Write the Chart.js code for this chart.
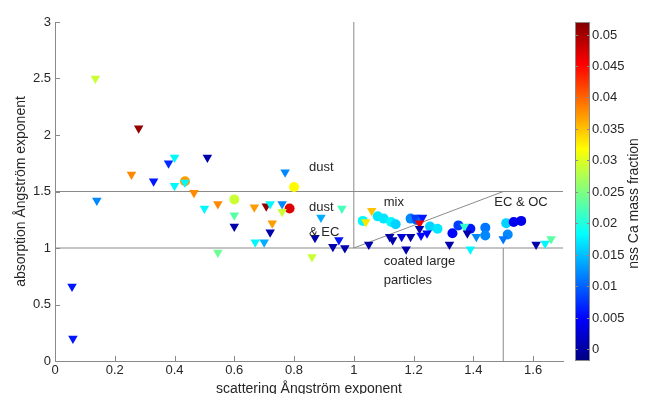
<!DOCTYPE html>
<html>
<head>
<meta charset="utf-8">
<script src="https://cdn.jsdelivr.net/npm/chart.js@4/dist/chart.umd.min.js"></script>
<style>
  html, body { margin: 0; padding: 0; background: #fff; }
  #wrap { width: 646px; height: 394px; }
</style>
</head>
<body>
<div id="wrap"><canvas id="chart" width="646" height="394"></canvas></div>
<script>
// triangles (first data set): scattering AAE, absorption AAE, nss Ca fraction
const triX = [0.135, 0.28, 0.256, 0.33, 0.38, 0.40, 0.51, 0.40, 0.435, 0.465, 0.50, 0.545, 0.60, 0.60, 0.545,
  0.667, 0.707, 0.72, 0.67, 0.70, 0.727, 0.72, 0.76, 0.77, 0.76, 0.96, 0.89, 0.87, 0.93, 0.95, 0.97, 0.86,
  0.057, 0.06, 0.14,
  1.06, 1.04, 1.05, 1.12, 1.13, 1.16, 1.175, 1.19, 1.205, 1.23, 1.22, 1.22, 1.225, 1.245,
  1.32, 1.37, 1.38, 1.39, 1.41, 1.50, 1.61, 1.64, 1.66];
const triY = [2.50, 2.06, 1.65, 1.59, 1.75, 1.80, 1.80, 1.55, 1.58, 1.49, 1.35, 1.39, 1.29, 1.19, 0.96,
  1.36, 1.37, 1.39, 1.05, 1.05, 1.22, 1.14, 1.39, 1.67, 1.32, 1.35, 1.27, 1.09, 1.01, 1.07, 1.00, 0.92,
  0.66, 0.20, 1.42,
  1.33, 1.23, 1.03, 1.10, 1.07, 1.10, 0.99, 1.10, 1.27, 1.27, 1.22, 1.17, 1.11, 1.13,
  1.03, 1.19, 1.13, 0.99, 1.10, 1.08, 1.03, 1.04, 1.08];
const triCa = [0.029, 0.051, 0.038, 0.006, 0.007, 0.018, 0.0005, 0.018, 0.018, 0.038, 0.018, 0.038, 0.023, 0.0005, 0.024,
  0.037, 0.051, 0.018, 0.018, 0.014, 0.037, 0.0005, 0.012, 0.012, 0.029, 0.022, 0.014, 0.0005, 0.0005, 0.006, 0.0005, 0.029,
  0.006, 0.006, 0.012,
  0.035, 0.033, 0.0005, 0.0005, 0.0005, 0.003, 0.0005, 0.0005, 0.008, 0.006, 0.046, 0.0005, 0.005, 0.005,
  0.0005, 0.021, 0.0005, 0.018, 0.012, 0.011, 0.0005, 0.018, 0.023];

// circles (second data set)
const cirX = [0.435, 0.60, 0.785, 0.80, 1.03, 1.08, 1.10, 1.125, 1.14, 1.19, 1.21, 1.255, 1.28,
  1.33, 1.35, 1.39, 1.44, 1.44, 1.51, 1.515, 1.535, 1.56];
const cirY = [1.59, 1.43, 1.35, 1.54, 1.24, 1.28, 1.26, 1.23, 1.21, 1.26, 1.25, 1.19, 1.17,
  1.13, 1.20, 1.17, 1.18, 1.11, 1.22, 1.12, 1.23, 1.24];
const cirCa = [0.037, 0.029, 0.047, 0.032, 0.018, 0.017, 0.017, 0.018, 0.016, 0.012, 0.010, 0.016, 0.017,
  0.005, 0.008, 0.006, 0.011, 0.012, 0.016, 0.012, 0.004, 0.004];

// axis ticks and colour scale
const xTicks = [0, 0.2, 0.4, 0.6, 0.8, 1, 1.2, 1.4, 1.6];
const yTicks = [0, 0.5, 1, 1.5, 2, 2.5, 3];
const caTicks = [0, 0.005, 0.01, 0.015, 0.02, 0.025, 0.03, 0.035, 0.04, 0.045, 0.05];
const caMin = -0.0019;
const caMax = 0.052;

// region boundary lines
const hLow = [[0, 1], [1.7, 1]];
const hHigh = [[0, 1.5], [1.7, 1.5]];
const vDust = [[1, 1], [1, 3]];
const vCoated = [[1.5, 0], [1.5, 1]];
const diag = [[1, 1], [1.5, 1.5]];

// region labels [x, y, text]
const regionLabels = [
  [0.85, 1.71, "dust"],
  [0.85, 1.36, "dust"],
  [0.85, 1.14, "& EC"],
  [1.10, 1.40, "mix"],
  [1.47, 1.40, "EC & OC"],
  [1.10, 0.88, "coated large"],
  [1.10, 0.71, "particles"]
];

const FONT = "'Liberation Sans', Arial, sans-serif";
const AXIS_GRAY = "#8a8a8a";
const TEXT = "#262626";

// MATLAB style jet colormap
function jet(t) {
  const c = v => Math.round(255 * Math.max(0, Math.min(1, v)));
  return "rgb(" + c(1.5 - Math.abs(4 * t - 3)) + "," + c(1.5 - Math.abs(4 * t - 2)) + "," + c(1.5 - Math.abs(4 * t - 1)) + ")";
}
function caColor(v) {
  return jet((v - caMin) / (caMax - caMin));
}

function toPoints(xs, ys) {
  return xs.map((x, i) => ({ x: x, y: ys[i] }));
}
function lineSet(pts) {
  return {
    type: "line",
    data: pts.map(p => ({ x: p[0], y: p[1] })),
    borderColor: AXIS_GRAY,
    borderWidth: 1,
    pointRadius: 0,
    fill: false
  };
}

// inward tick marks, region labels and the colour bar
const extrasPlugin = {
  id: "extras",
  afterDatasetsDraw(chart) {
    const { ctx, chartArea, scales } = chart;
    ctx.save();
    ctx.strokeStyle = AXIS_GRAY;
    ctx.lineWidth = 1;
    xTicks.forEach(v => {
      const px = Math.round(scales.x.getPixelForValue(v)) + 0.5;
      ctx.beginPath();
      ctx.moveTo(px, chartArea.bottom);
      ctx.lineTo(px, chartArea.bottom - 5);
      ctx.stroke();
    });
    yTicks.forEach(v => {
      const py = Math.round(scales.y.getPixelForValue(v)) + 0.5;
      ctx.beginPath();
      ctx.moveTo(chartArea.left, py);
      ctx.lineTo(chartArea.left + 5, py);
      ctx.stroke();
    });

    ctx.fillStyle = TEXT;
    ctx.font = "13px " + FONT;
    ctx.textAlign = "left";
    ctx.textBaseline = "middle";
    regionLabels.forEach(l => {
      ctx.fillText(l[2], scales.x.getPixelForValue(l[0]), scales.y.getPixelForValue(l[1]));
    });

    // colour bar
    const cbLeft = 575, cbW = 15;
    const top = chartArea.top, bottom = chartArea.bottom;
    const grad = ctx.createLinearGradient(0, bottom, 0, top);
    for (let i = 0; i <= 32; i++) grad.addColorStop(i / 32, jet(i / 32));
    ctx.fillStyle = grad;
    ctx.fillRect(cbLeft, top, cbW, bottom - top);
    ctx.strokeStyle = AXIS_GRAY;
    ctx.strokeRect(cbLeft + 0.5, top + 0.5, cbW - 1, bottom - top - 1);
    ctx.fillStyle = TEXT;
    ctx.font = "13px " + FONT;
    caTicks.forEach(v => {
      const py = Math.round(bottom - (v - caMin) / (caMax - caMin) * (bottom - top)) + 0.5;
      ctx.beginPath();
      ctx.moveTo(cbLeft, py); ctx.lineTo(cbLeft + 3, py);
      ctx.moveTo(cbLeft + cbW, py); ctx.lineTo(cbLeft + cbW - 3, py);
      ctx.stroke();
      ctx.fillText(String(v), cbLeft + cbW + 2, py);
    });
    ctx.translate(634, (top + bottom) / 2 + 12);
    ctx.rotate(-Math.PI / 2);
    ctx.textAlign = "center";
    ctx.font = "14px " + FONT;
    ctx.fillText("nss Ca mass fraction", 0, 0);
    ctx.restore();
  }
};

new Chart(document.getElementById("chart"), {
  type: "scatter",
  data: {
    datasets: [
      {
        label: "triangles",
        data: toPoints(triX, triY),
        pointStyle: "triangle",
        rotation: 180,
        radius: 5.5,
        hoverRadius: 5.5,
        backgroundColor: triCa.map(caColor),
        borderColor: triCa.map(caColor),
        borderWidth: 0
      },
      {
        label: "circles",
        data: toPoints(cirX, cirY),
        pointStyle: "circle",
        radius: 5,
        hoverRadius: 5,
        backgroundColor: cirCa.map(caColor),
        borderColor: cirCa.map(caColor),
        borderWidth: 0
      },
      lineSet(hLow),
      lineSet(hHigh),
      lineSet(vDust),
      lineSet(vCoated),
      lineSet(diag)
    ]
  },
  options: {
    responsive: false,
    animation: false,
    layout: { padding: { top: 22, right: 83, left: 0, bottom: 0 } },
    plugins: {
      legend: { display: false },
      tooltip: { enabled: false }
    },
    scales: {
      x: {
        type: "linear",
        min: 0,
        max: 1.7,
        afterBuildTicks: s => { s.ticks = xTicks.map(v => ({ value: v })); },
        afterFit: s => { s.height = 33; },
        grid: { drawOnChartArea: false, drawTicks: false },
        border: { color: AXIS_GRAY },
        ticks: {
          color: TEXT,
          font: { family: FONT, size: 13 },
          padding: 2,
          maxRotation: 0,
          callback: v => String(v)
        },
        title: {
          display: true,
          text: "scattering Ångström exponent",
          color: TEXT,
          font: { family: FONT, size: 14 },
          padding: { top: 0, bottom: -4 }
        }
      },
      y: {
        type: "linear",
        min: 0,
        max: 3,
        afterBuildTicks: s => { s.ticks = yTicks.map(v => ({ value: v })); },
        afterFit: s => { s.width = 55; },
        grid: { drawOnChartArea: false, drawTicks: false },
        border: { color: AXIS_GRAY },
        ticks: {
          color: TEXT,
          font: { family: FONT, size: 13 },
          padding: 4,
          callback: v => String(v)
        },
        title: {
          display: true,
          text: "absorption Ångström exponent",
          color: TEXT,
          font: { family: FONT, size: 14 },
          padding: { top: 13, bottom: 0 }
        }
      }
    }
  },
  plugins: [extrasPlugin]
});
</script>
</body>
</html>
